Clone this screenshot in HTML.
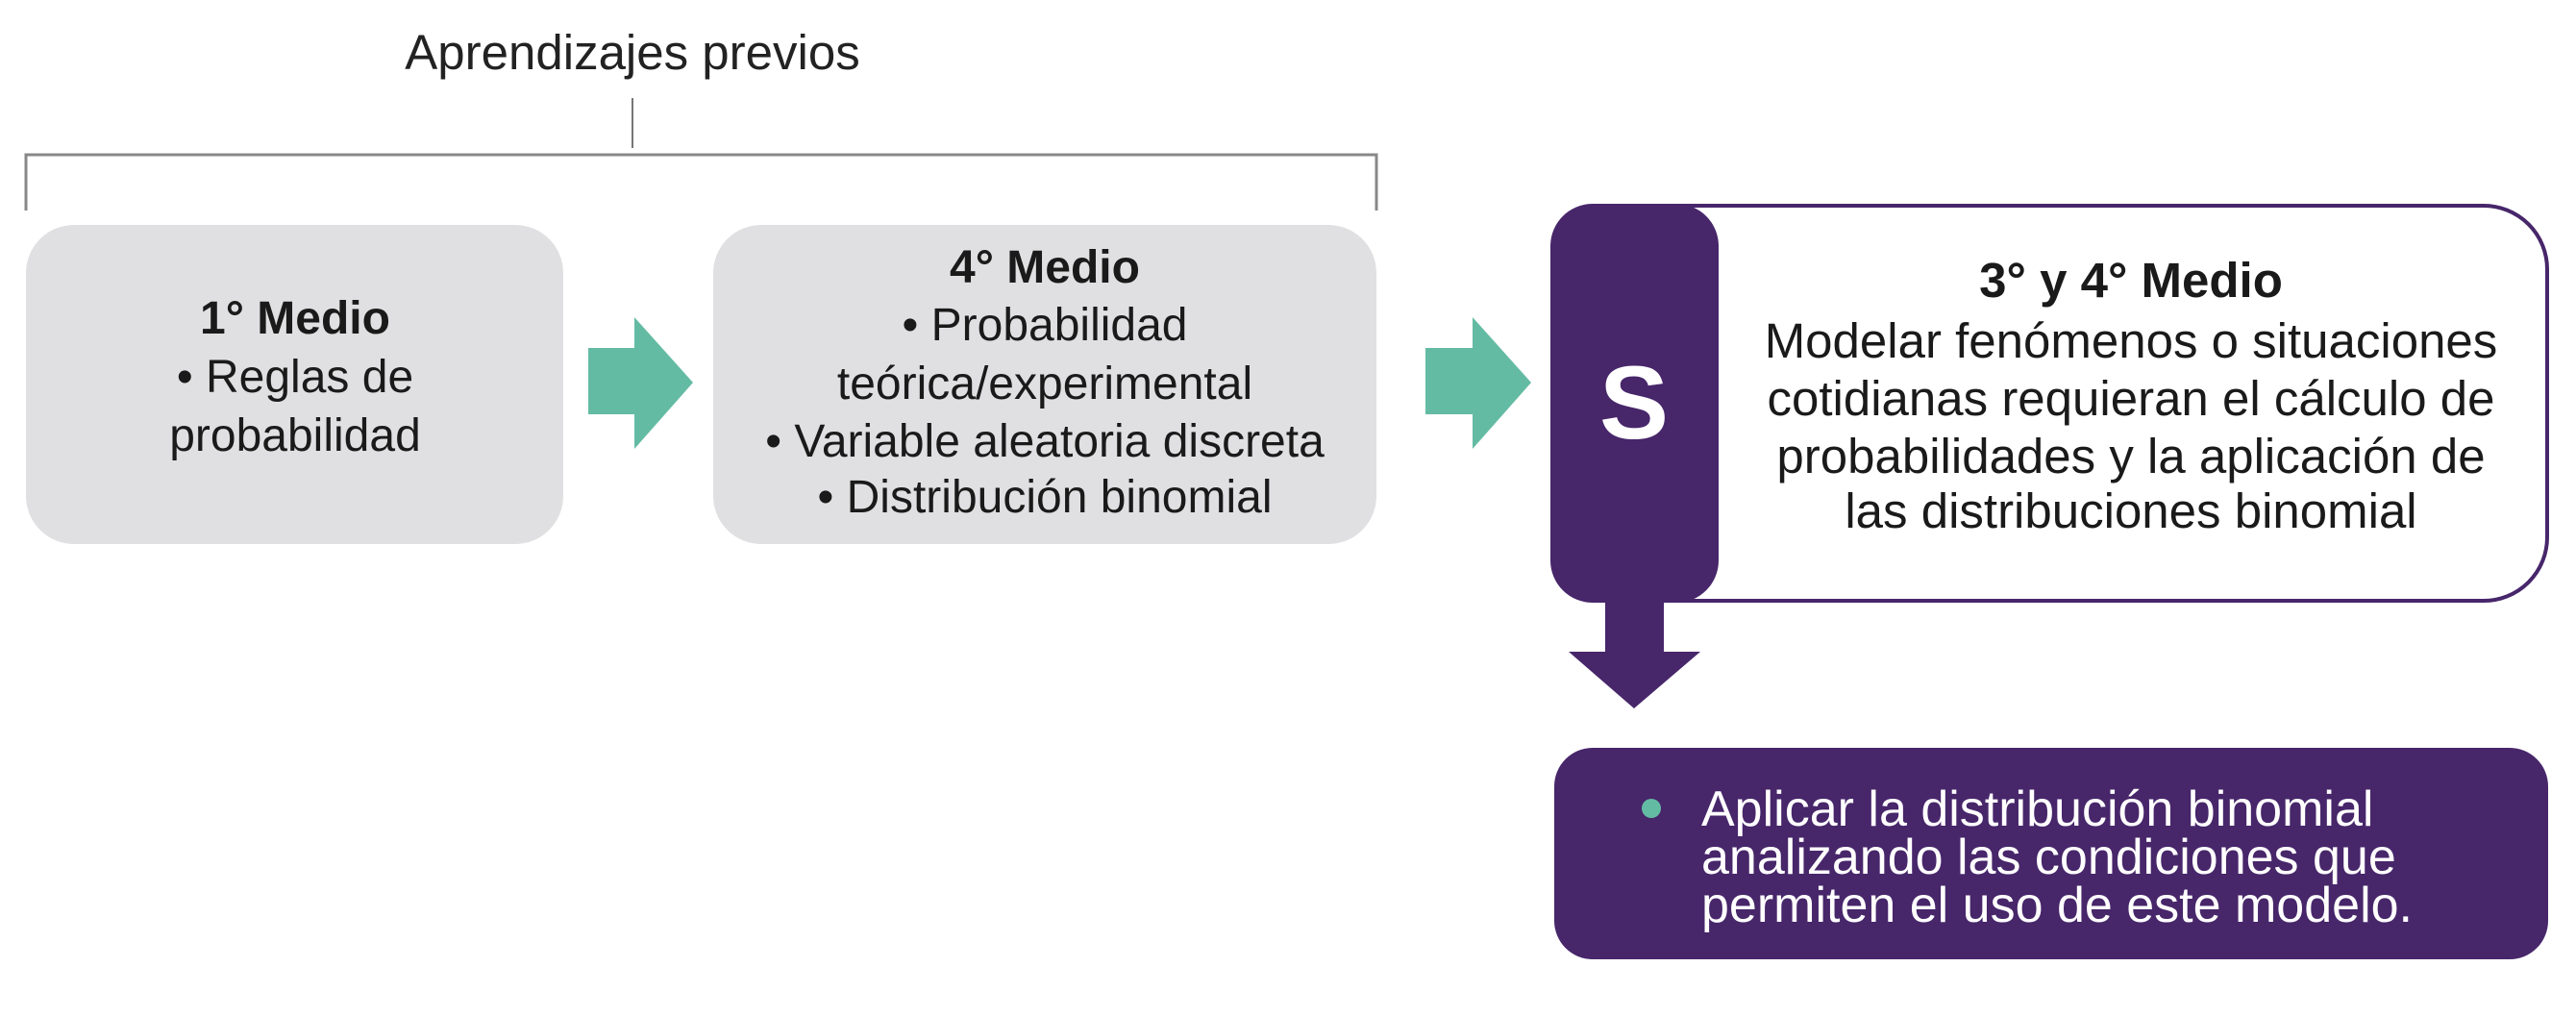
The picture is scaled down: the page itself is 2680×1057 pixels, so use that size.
<!DOCTYPE html>
<html><head><meta charset="utf-8"><style>
html,body{margin:0;padding:0;background:#fff;}
svg{display:block;}
text{font-family:"Liberation Sans",sans-serif;}
</style></head><body>
<svg width="2680" height="1057" viewBox="0 0 2680 1057" xmlns="http://www.w3.org/2000/svg">
<text x="658" y="72" font-size="51" text-anchor="middle" fill="#222">Aprendizajes previos</text>
<line x1="658" y1="102" x2="658" y2="154" stroke="#777" stroke-width="2"/>
<polyline points="27,219 27,161 1432,161 1432,219" fill="none" stroke="#888" stroke-width="3"/>

<rect x="27" y="234" width="559" height="332" rx="50" fill="#e0e0e2"/>
<rect x="742" y="234" width="690" height="332" rx="50" fill="#e0e0e2"/>
<g font-size="48" text-anchor="middle" fill="#1a1a1a">
<text x="307" y="347" font-weight="bold">1° Medio</text>
<text x="307" y="408">• Reglas de</text>
<text x="307" y="469">probabilidad</text>
<text x="1087" y="294" font-weight="bold">4° Medio</text>
<text x="1087" y="354">• Probabilidad</text>
<text x="1087" y="415">teórica/experimental</text>
<text x="1087" y="475">• Variable aleatoria discreta</text>
<text x="1087" y="533">• Distribución binomial</text>
</g>

<polygon points="612,362 660,362 660,330 721,398 660,467 660,431 612,431" fill="#64bba3"/>
<polygon points="1483,362 1532,362 1532,330 1593,398 1532,467 1532,431 1483,431" fill="#64bba3"/>

<rect x="1680" y="214" width="970" height="411" rx="66" fill="#fff" stroke="#47266a" stroke-width="4"/>
<rect x="1613" y="212" width="175" height="415" rx="44" fill="#47266a"/>
<text x="1700" y="456" font-size="108" font-weight="bold" text-anchor="middle" fill="#fff">S</text>
<g font-size="51" text-anchor="middle" fill="#1a1a1a">
<text x="2217" y="309" font-weight="bold">3° y 4° Medio</text>
<text x="2217" y="372">Modelar fenómenos o situaciones</text>
<text x="2217" y="432">cotidianas requieran el cálculo de</text>
<text x="2217" y="492">probabilidades y la aplicación de</text>
<text x="2217" y="549">las distribuciones binomial</text>
</g>

<polygon points="1670,620 1731,620 1731,678 1769,678 1700,737 1632,678 1670,678" fill="#47266a"/>

<rect x="1617" y="778" width="1034" height="220" rx="40" fill="#47266a"/>
<circle cx="1718" cy="841" r="10" fill="#64bba3"/>
<g font-size="52" fill="#fff">
<text x="1770" y="859">Aplicar la distribución binomial</text>
<text x="1770" y="909">analizando las condiciones que</text>
<text x="1770" y="959">permiten el uso de este modelo.</text>
</g>
</svg>
</body></html>
